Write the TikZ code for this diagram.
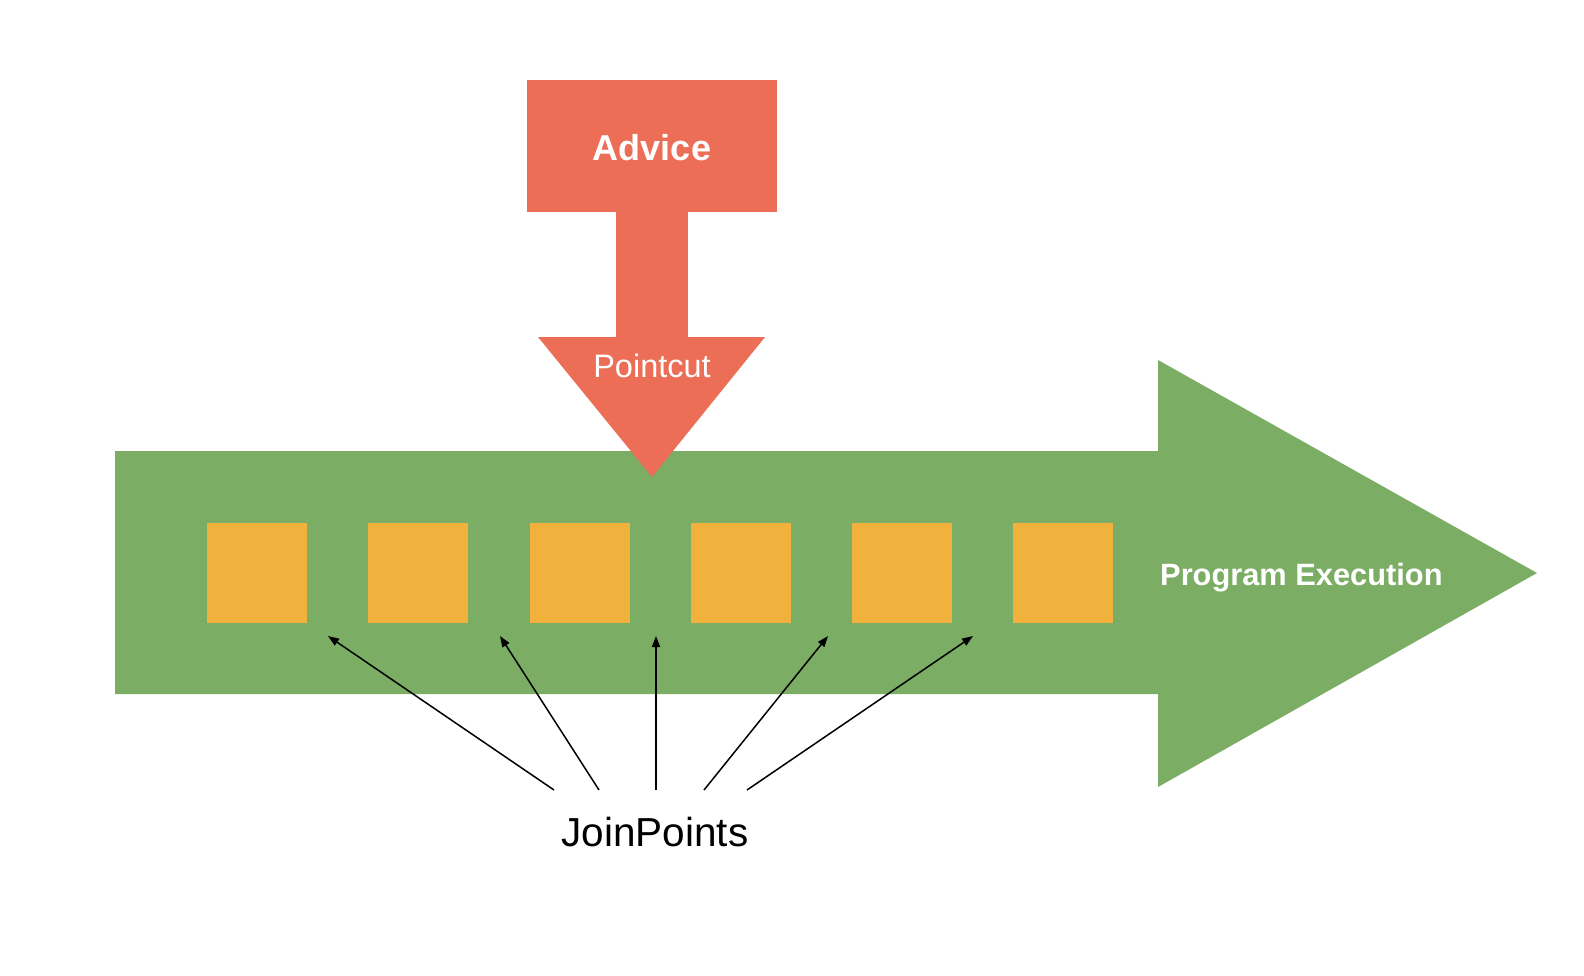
\documentclass[tikz,border=0pt]{standalone}
\usepackage{fontspec}
\setmainfont{Liberation Sans}
\usetikzlibrary{arrows.meta}
\definecolor{advred}{HTML}{EC6E57}
\definecolor{progreen}{HTML}{7CAD64}
\definecolor{jporange}{HTML}{F1B13D}
\tikzset{
  redshape/.style={fill=advred, draw=none},
  greenshape/.style={fill=progreen, draw=none},
  jpbox/.style={fill=jporange, draw=none, minimum width=100pt, minimum height=100pt, inner sep=0pt, anchor=north west},
  whitebold/.style={text=white, font=\bfseries, inner sep=0pt},
  jparrow/.style={draw=black, line width=1.5pt, -{Triangle[length=11pt,width=8pt]}}
}
\begin{document}
\begin{tikzpicture}[x=1pt,y=-1pt]
\useasboundingbox (0,0) rectangle (1584,976);
% program execution arrow
\path[greenshape] (115,451) -- (1158,451) -- (1158,360) -- (1537,573) -- (1158,787) -- (1158,694) -- (115,694) -- cycle;
% join point squares
\foreach \i in {0,...,5} {
  \node[jpbox] (sq\i) at ({207+161.2*\i},523) {};
}
% advice / pointcut arrow
\path[redshape] (527,80) rectangle (777,212);
\path[redshape] (616,211) rectangle (688,338);
\path[redshape] (538,337) -- (765,337) -- (652,477) -- cycle;
\node[whitebold, anchor=base, font=\bfseries\fontsize{36}{40}\selectfont] (advice) at (652,161) {Advice};
\node[text=white, inner sep=0pt, anchor=base, font=\fontsize{32.5}{36}\selectfont] (pointcut) at (652,377) {Pointcut};
\node[whitebold, anchor=base west, font=\bfseries\fontsize{30.8}{34}\selectfont] (progexec) at (1160,585) {Program Execution};
\node[text=black, inner sep=0pt, anchor=base, font=\fontsize{40.5}{44}\selectfont] (jp) at (655,846) {JoinPoints};
% connectors
\coordinate (s1) at (554,790); \coordinate (t1) at (328,636);
\coordinate (s2) at (599,790); \coordinate (t2) at (500,636);
\coordinate (s3) at (656,790); \coordinate (t3) at (656,636);
\coordinate (s4) at (704,790); \coordinate (t4) at (828,636);
\coordinate (s5) at (747,790); \coordinate (t5) at (973,636);
\foreach \k in {1,...,5} {
  \draw[jparrow] (s\k) -- (t\k);
}
\end{tikzpicture}
\end{document}
